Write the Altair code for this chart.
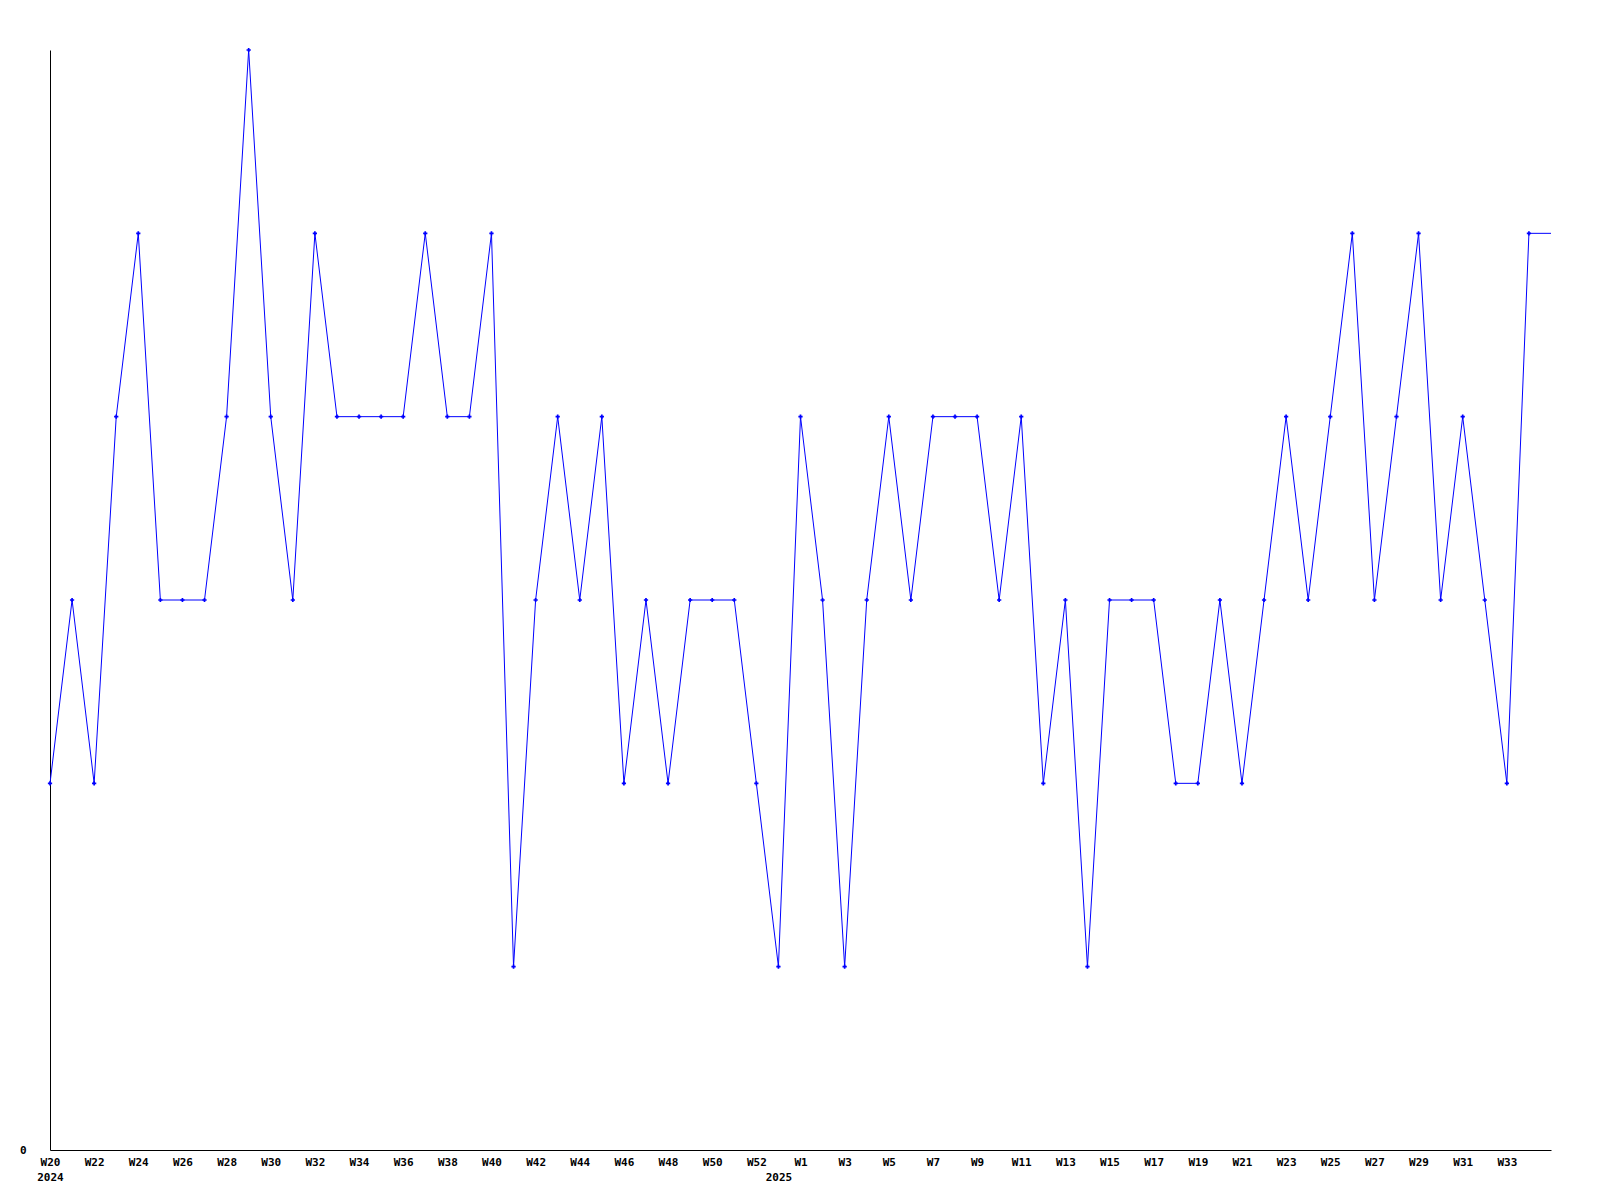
import altair as alt
import pandas as pd

weeks_2024 = [f"W{i}" for i in range(20, 54)]
weeks_2025 = [f"W{i}" for i in range(1, 36)]
years = ["2024"] * len(weeks_2024) + ["2025"] * len(weeks_2025)
weeks = weeks_2024 + weeks_2025
keys = [f"{y}-{w}" for y, w in zip(years, weeks)]

values = [
    2, 3, 2, 4, 5, 3, 3, 3, 4, 6,
    4, 3, 5, 4, 4, 4, 4, 5, 4, 4,
    5, 1, 3, 4, 3, 4, 2, 3, 2, 3,
    3, 3, 2, 1,
    4, 3, 1, 3, 4, 3, 4, 4, 4, 3,
    4, 2, 3, 1, 3, 3, 3, 2, 2, 3,
    2, 3, 4, 3, 4, 5, 3, 4, 5, 3,
    4, 3, 2, 5, 5,
]

# positions where a year label is printed below the week labels
year_label_keys = ["2024-W20", "2024-W53"]
year_label_text = ["2024", "2025"]
week_tick_keys = [keys[i] for i in range(0, 67, 2)]
tick_keys = [k for k in keys if k in week_tick_keys or k in year_label_keys]

df = pd.DataFrame({"key": keys, "value": values, "idx": list(range(len(keys)))})

font = "DejaVu Sans Mono"

parts = []
for k, yl in zip(year_label_keys, year_label_text):
    first = f"split('{k}', '-')[1]" if k in week_tick_keys else "' '"
    parts.append(f"datum.value == '{k}' ? [{first}, '{yl}']")
label_expr = " : ".join(parts + ["split(datum.value, '-')[1]"])

x = alt.X(
    "key:O",
    sort=keys,
    scale=alt.Scale(type="point", padding=0),
    axis=alt.Axis(
        values=tick_keys,
        labelExpr=label_expr,
        labelAngle=0,
        ticks=False,
        grid=False,
        title=None,
        labelPadding=6,
        labelLineHeight=15,
        labelOverlap=False,
        domainColor="black",
        labelFont=font,
        labelFontWeight="bold",
        labelFontSize=11,
        labelColor="black",
    ),
)
y = alt.Y(
    "value:Q",
    scale=alt.Scale(domain=[0, 6], nice=False),
    axis=alt.Axis(
        values=[0],
        ticks=False,
        grid=False,
        title=None,
        labelPadding=24,
        domainColor="black",
        labelFont=font,
        labelFontWeight="bold",
        labelFontSize=11,
        labelColor="black",
    ),
)

base = alt.Chart(df)
line = base.mark_line(color="#0000ff", strokeWidth=1).encode(x=x, y=y)
pts = base.transform_filter(alt.datum.idx < len(keys) - 1).mark_point(
    shape="cross", filled=True, color="#0000ff", size=18, opacity=1
).encode(x=x, y=y)

chart = (
    alt.layer(line, pts)
    .properties(
        width=1501,
        height=1100,
        autosize=alt.AutoSizeParams(type="none"),
        padding={"left": 42, "top": 42, "right": 40, "bottom": 40},
        background="white",
    )
    .configure_view(stroke=None)
)

chart.save("out.html", embed_options={"renderer": "svg", "actions": False})
